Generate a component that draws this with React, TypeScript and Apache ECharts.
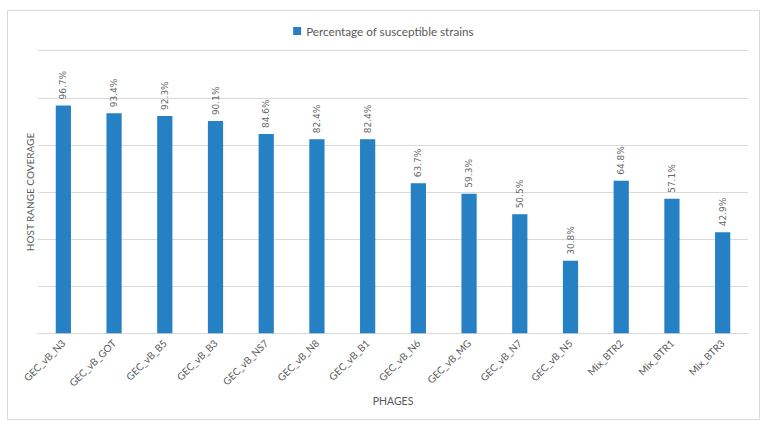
import React, { useEffect, useRef } from "react";
import * as echarts from "echarts";

const categories = [
  "GEC_vB_N3", "GEC_vB_GOT", "GEC_vB_B5", "GEC_vB_B3", "GEC_vB_NS7", "GEC_vB_N8", "GEC_vB_B1",
  "GEC_vB_N6", "GEC_vB_MG", "GEC_vB_N7", "GEC_vB_N5", "Mix_BTR2", "Mix_BTR1", "Mix_BTR3",
];
const values = [96.7, 93.4, 92.3, 90.1, 84.6, 82.4, 82.4, 63.7, 59.3, 50.5, 30.8, 64.8, 57.1, 42.9];
const seriesName = "Percentage of susceptible strains";

const FONT = "Lato, 'Open Sans', sans-serif";
const GRAY = "#595959";

export default function App() {
  const ref = useRef<HTMLDivElement>(null);
  useEffect(() => {
    if (!ref.current) return;
    const chart = echarts.init(ref.current, null, { renderer: "svg" });
    chart.setOption({
      animation: false,
      backgroundColor: "#ffffff",
      textStyle: { fontFamily: FONT },
      graphic: [
        {
          type: "rect",
          shape: { x: 7.5, y: 10.5, width: 752, height: 409 },
          style: { fill: "none", stroke: "#d9d9d9", lineWidth: 1 },
          silent: true,
        },
      ],
      legend: {
        top: 20,
        left: "center",
        icon: "rect",
        itemWidth: 8,
        itemHeight: 8,
        itemGap: 4,
        textStyle: { color: GRAY, fontSize: 11.7, fontFamily: FONT },
        data: [seriesName],
      },
      grid: { left: 38, right: 19, top: 50.7, bottom: 96.7 },
      xAxis: {
        type: "category",
        data: categories,
        name: "PHAGES",
        nameLocation: "middle",
        nameGap: 60,
        nameTextStyle: { color: GRAY, fontSize: 10.5, fontFamily: FONT },
        axisLine: { lineStyle: { color: "#d9d9d9" } },
        axisTick: { show: false },
        axisLabel: { rotate: 45, color: GRAY, fontSize: 10, margin: 8, fontFamily: FONT },
      },
      yAxis: {
        type: "value",
        min: 0,
        max: 120,
        interval: 20,
        name: "HOST RANGE COVERAGE",
        nameLocation: "middle",
        nameGap: 3,
        nameTextStyle: { color: GRAY, fontSize: 10, fontFamily: FONT },
        axisLabel: { show: false },
        axisLine: { show: false },
        axisTick: { show: false },
        splitLine: { lineStyle: { color: "#d9d9d9" } },
      },
      series: [
        {
          name: seriesName,
          type: "bar",
          data: values,
          barWidth: "30%",
          itemStyle: { color: "#2581c4" },
          label: {
            show: true,
            position: "top",
            rotate: 90,
            align: "left",
            verticalAlign: "middle",
            distance: 6,
            color: "#666666",
            fontSize: 9,
            fontFamily: "'DejaVu Sans', sans-serif",
            formatter: (p: any) => p.value.toFixed(1) + "%",
          },
        },
      ],
    });
    return () => chart.dispose();
  }, []);
  return (
    <div
      ref={ref}
      style={{ position: "fixed", left: 0, top: 0, width: 767, height: 430 }}
    />
  );
}
